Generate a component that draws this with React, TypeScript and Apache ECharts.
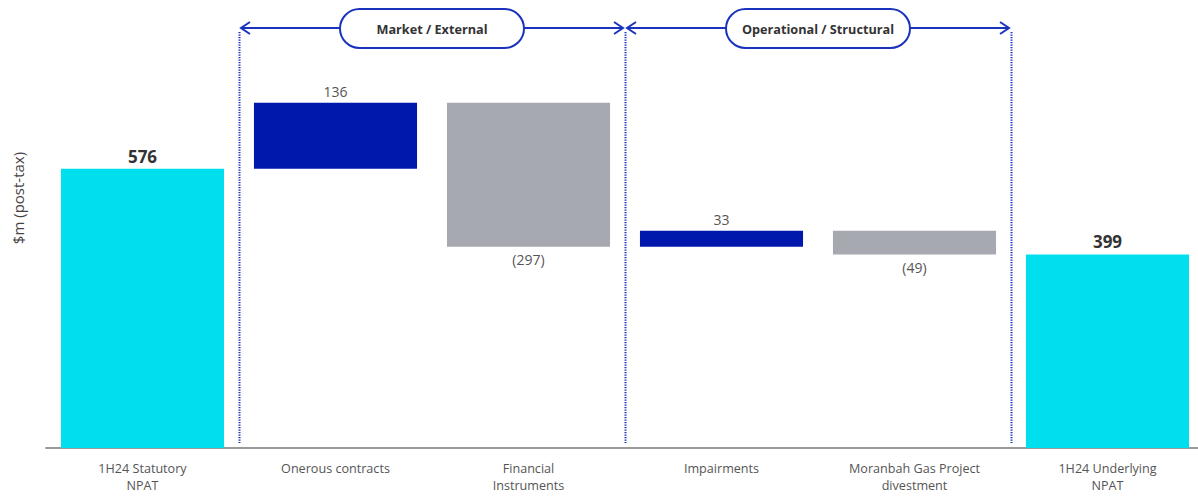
import React, { useEffect, useRef } from "react";
import * as echarts from "echarts";

const categories = [
  "1H24 Statutory\nNPAT",
  "Onerous contracts",
  "Financial\nInstruments",
  "Impairments",
  "Moranbah Gas Project\ndivestment",
  "1H24 Underlying\nNPAT",
];
// kind: total bars start at zero; delta bars float on the running total
const values = [576, 136, -297, 33, -49, 399];
const kinds = ["total", "delta", "delta", "delta", "delta", "total"];
const groups = [
  { label: "Market / External", from: 1, to: 2 },
  { label: "Operational / Structural", from: 3, to: 4 },
];
const yAxisTitle = "$m (post-tax)";

const CYAN = "#00DFEE";
const NAVY = "#0019AC";
const GREY = "#A7A9B0";
const LINE_BLUE = "#1A33BC";
const FONT = "'Open Sans', 'Noto Sans', sans-serif";

export default function App() {
  const ref = useRef<HTMLDivElement>(null);
  useEffect(() => {
    if (!ref.current) return;
    const chart = echarts.init(ref.current, undefined, { renderer: "svg" });

    const base: number[] = [];
    const heights: number[] = [];
    let running = 0;
    values.forEach((v, i) => {
      if (kinds[i] === "total") {
        base.push(0);
        heights.push(v);
        running = v;
      } else {
        const next = running + v;
        base.push(Math.min(running, next));
        heights.push(Math.abs(v));
        running = next;
      }
    });

    const barData = values.map((v, i) => {
      const total = kinds[i] === "total";
      const neg = v < 0;
      return {
        value: heights[i],
        itemStyle: { color: total ? CYAN : neg ? GREY : NAVY },
        label: {
          show: true,
          position: neg ? "bottom" : "top",
          distance: neg ? 6 : 4,
          formatter: neg ? `(${Math.abs(v)})` : `${v}`,
          fontFamily: FONT,
          fontSize: total ? 17 : 14,
          fontWeight: total ? "bold" : "normal",
          color: total ? "#333" : "#555",
        },
      };
    });

    chart.setOption({
      animation: false,
      grid: { left: 46, top: 60, right: 6, height: 388, containLabel: false },
      xAxis: {
        type: "category",
        data: categories,
        axisLine: { show: true, lineStyle: { color: "#9a9a9a", width: 2 } },
        axisTick: { show: false },
        axisLabel: {
          interval: 0,
          margin: 12,
          fontFamily: FONT,
          fontSize: 12.6,
          lineHeight: 17,
          color: "#555",
        },
      },
      yAxis: {
        type: "value",
        min: 0,
        max: 800,
        axisLine: { show: false },
        axisTick: { show: false },
        axisLabel: { show: false },
        splitLine: { show: false },
      },
      series: [
        {
          type: "bar",
          stack: "w",
          data: base,
          itemStyle: { color: "transparent" },
          barWidth: "84.5%",
          silent: true,
        },
        {
          type: "bar",
          stack: "w",
          data: barData,
          barWidth: "84.5%",
        },
      ],
    });

    const c0 = chart.convertToPixel({ xAxisIndex: 0 }, 0) as number;
    const c1 = chart.convertToPixel({ xAxisIndex: 0 }, 1) as number;
    const band = c1 - c0;
    const boundary = (i: number) => c0 + band * (i + 0.5);
    const axisY = chart.convertToPixel({ yAxisIndex: 0 }, 0) as number;

    const lineY = 28;
    const graphics: any[] = [];
    const boundaries = new Set<number>();
    groups.forEach((g) => {
      boundaries.add(g.from - 1);
      boundaries.add(g.to);
    });
    boundaries.forEach((b) => {
      const x = Math.round(boundary(b)) + 0.5;
      graphics.push({
        type: "line",
        shape: { x1: x, y1: lineY + 4, x2: x, y2: axisY - 5 },
        style: { stroke: LINE_BLUE, lineWidth: 2, lineDash: [1.2, 1.3] },
        silent: true,
      });
    });
    groups.forEach((g) => {
      const xa = boundary(g.from - 1) + 1;
      const xb = boundary(g.to) - 1;
      const mid = (xa + xb) / 2;
      graphics.push({
        type: "line",
        shape: { x1: xa + 1, y1: lineY, x2: xb - 1, y2: lineY },
        style: { stroke: LINE_BLUE, lineWidth: 2 },
      });
      graphics.push({
        type: "polyline",
        shape: { points: [[xa + 10, lineY - 6], [xa + 1, lineY], [xa + 10, lineY + 6]] },
        style: { stroke: LINE_BLUE, lineWidth: 2, fill: "none" },
      });
      graphics.push({
        type: "polyline",
        shape: { points: [[xb - 10, lineY - 6], [xb - 1, lineY], [xb - 10, lineY + 6]] },
        style: { stroke: LINE_BLUE, lineWidth: 2, fill: "none" },
      });
      graphics.push({
        type: "rect",
        shape: { x: mid - 92, y: 9, width: 184, height: 39, r: 19.5 },
        style: { fill: "#fff", stroke: LINE_BLUE, lineWidth: 2 },
      });
      graphics.push({
        type: "text",
        x: mid,
        y: 29,
        style: {
          text: g.label,
          fontFamily: FONT,
          fontSize: 12.7,
          fontWeight: "bold",
          fill: "#333",
          align: "center",
          verticalAlign: "middle",
        },
      });
    });
    graphics.push({
      type: "text",
      x: 18,
      y: 198,
      rotation: Math.PI / 2,
      style: {
        text: yAxisTitle,
        fontFamily: FONT,
        fontSize: 15,
        fill: "#444",
        align: "center",
        verticalAlign: "middle",
      },
    });

    chart.setOption({ graphic: graphics });
    return () => chart.dispose();
  }, []);

  return (
    <div
      style={{ position: "fixed", left: 0, top: 0, width: 1198, height: 498, overflow: "hidden", background: "#fff" }}
    >
      <div ref={ref} style={{ width: 1210, height: 498 }} />
    </div>
  );
}
